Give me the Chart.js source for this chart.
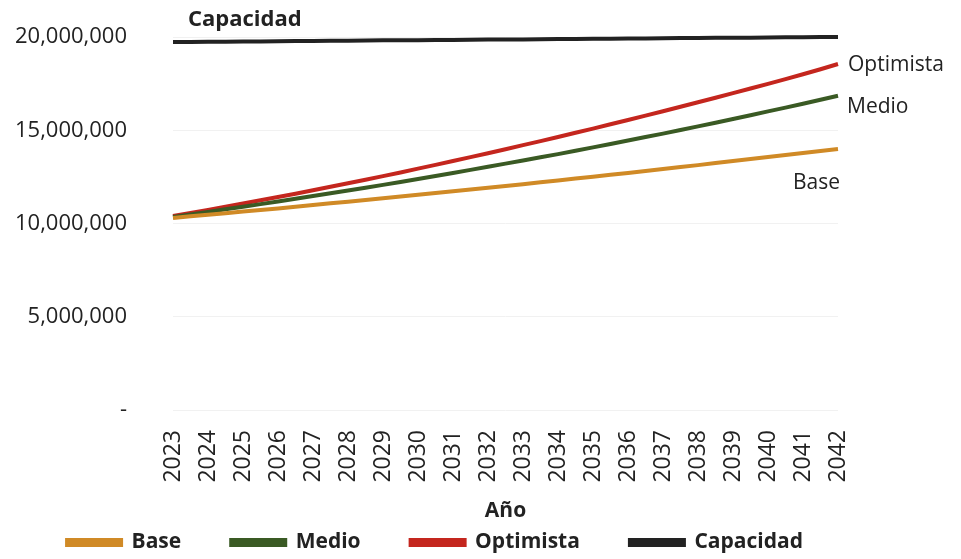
<!DOCTYPE html>
<html>
<head>
<meta charset="utf-8">
<script src="https://cdn.jsdelivr.net/npm/chart.js@4.4.0/dist/chart.umd.min.js"></script>
<style>
  html, body { margin: 0; padding: 0; background: #fff; }
  #wrap { width: 961px; height: 559px; }
</style>
</head>
<body>
<div id="wrap"><canvas id="myChart" width="961" height="559"></canvas></div>
<script>
// anni sull'asse x
var anni = ["2023", "2024", "2025", "2026", "2027", "2028", "2029", "2030", "2031", "2032",
  "2033", "2034", "2035", "2036", "2037", "2038", "2039", "2040", "2041", "2042"];

// valori (milioni)
var base = [10.30, 10.47, 10.64, 10.81, 10.99, 11.17, 11.35, 11.54, 11.73, 11.92,
  12.11, 12.31, 12.51, 12.71, 12.92, 13.13, 13.35, 13.56, 13.78, 14.00];
var medio = [10.35, 10.62, 10.90, 11.18, 11.47, 11.77, 12.07, 12.39, 12.71, 13.04,
  13.38, 13.72, 14.08, 14.45, 14.82, 15.21, 15.60, 16.01, 16.42, 16.85];
var optimista = [10.40, 10.73, 11.07, 11.42, 11.78, 12.16, 12.54, 12.94, 13.35, 13.77,
  14.20, 14.64, 15.09, 15.55, 16.02, 16.50, 16.99, 17.49, 18.00, 18.55];
var capacidad = [19.73, 19.74, 19.76, 19.77, 19.79, 19.80, 19.82, 19.83, 19.84, 19.86,
  19.87, 19.89, 19.90, 19.92, 19.93, 19.95, 19.96, 19.97, 19.99, 20.00];

var nomi = ["Base", "Medio", "Optimista", "Capacidad"];
var colori = ["#d08a26", "#3a5a24", "#c4261e", "#222222"];

var FONT = "'Open Sans', sans-serif";

function milioni(arr) {
  return arr.map(function (v) { return Math.round(v * 1000000); });
}

// etichette vicino alle linee + aggiustamenti della legenda
var etichettePlugin = {
  id: "etichette",
  afterInit: function (chart) {
    // altezza fissa della legenda
    var fitOrig = chart.legend.fit;
    chart.legend.fit = function () {
      fitOrig.call(this);
      this.height = 73;
    };
  },
  afterLayout: function (chart) {
    // sposta un po' la legenda a destra
    chart.legend.left += 16;
    chart.legend.right += 16;
  },
  afterDatasetsDraw: function (chart) {
    var ctx = chart.ctx;
    ctx.save();
    ctx.fillStyle = "#222";
    ctx.textBaseline = "middle";
    var last = anni.length - 1;
    var pOpt = chart.getDatasetMeta(2).data[last];
    var pMed = chart.getDatasetMeta(1).data[last];
    var pBase = chart.getDatasetMeta(0).data[last];
    ctx.font = "21px " + FONT;
    ctx.textAlign = "left";
    ctx.fillText("Optimista", pOpt.x + 10, pOpt.y + 1);
    ctx.fillText("Medio", pMed.x + 9, pMed.y + 11);
    ctx.textAlign = "right";
    ctx.fillText("Base", pBase.x + 2, pBase.y + 34);
    // Capacidad in alto a sinistra
    var pCap = chart.getDatasetMeta(3).data[0];
    ctx.font = "bold 22px " + FONT;
    ctx.textAlign = "left";
    ctx.fillText("Capacidad", pCap.x + 15, pCap.y - 22);
    ctx.restore();
  }
};

new Chart("myChart", {
  type: "line",
  data: {
    labels: anni,
    datasets: [
      { label: nomi[0], data: milioni(base), borderColor: colori[0], backgroundColor: colori[0] },
      { label: nomi[1], data: milioni(medio), borderColor: colori[1], backgroundColor: colori[1] },
      { label: nomi[2], data: milioni(optimista), borderColor: colori[2], backgroundColor: colori[2] },
      { label: nomi[3], data: milioni(capacidad), borderColor: colori[3], backgroundColor: colori[3] }
    ].map(function (d) {
      d.borderWidth = 4;
      d.pointRadius = 0;
      d.tension = 0.3;
      d.clip = false;
      return d;
    })
  },
  options: {
    responsive: false,
    animation: false,
    layout: { padding: { top: 37, right: 123, left: 0, bottom: 4 } },
    plugins: {
      tooltip: { enabled: false },
      legend: {
        position: "bottom",
        labels: {
          boxWidth: 54,
          boxHeight: 5,
          padding: 50,
          color: "#222",
          font: { family: FONT, size: 21, weight: "bold" }
        }
      }
    },
    scales: {
      x: {
        offset: false,
        afterFit: function (scale) { scale.height = 72; },
        grid: { display: false },
        border: { display: false },
        ticks: {
          color: "#222",
          font: { family: FONT, size: 23 },
          maxRotation: 90,
          minRotation: 90,
          padding: 12
        },
        title: {
          display: true,
          text: "Año",
          color: "#222",
          font: { family: FONT, size: 21, weight: "bold" },
          padding: { top: 0, bottom: -42 }
        }
      },
      y: {
        min: 0,
        max: 20000000,
        afterFit: function (scale) { scale.width = 173; },
        grid: { color: "#f1f1f1", tickLength: 42, tickColor: "rgba(0,0,0,0)" },
        border: { display: false },
        ticks: {
          stepSize: 5000000,
          padding: 4,
          color: "#222",
          font: { family: FONT, size: 22 },
          callback: function (v) {
            return v === 0 ? "-" : v.toLocaleString("en-US");
          }
        }
      }
    }
  },
  plugins: [etichettePlugin]
});
</script>
</body>
</html>
